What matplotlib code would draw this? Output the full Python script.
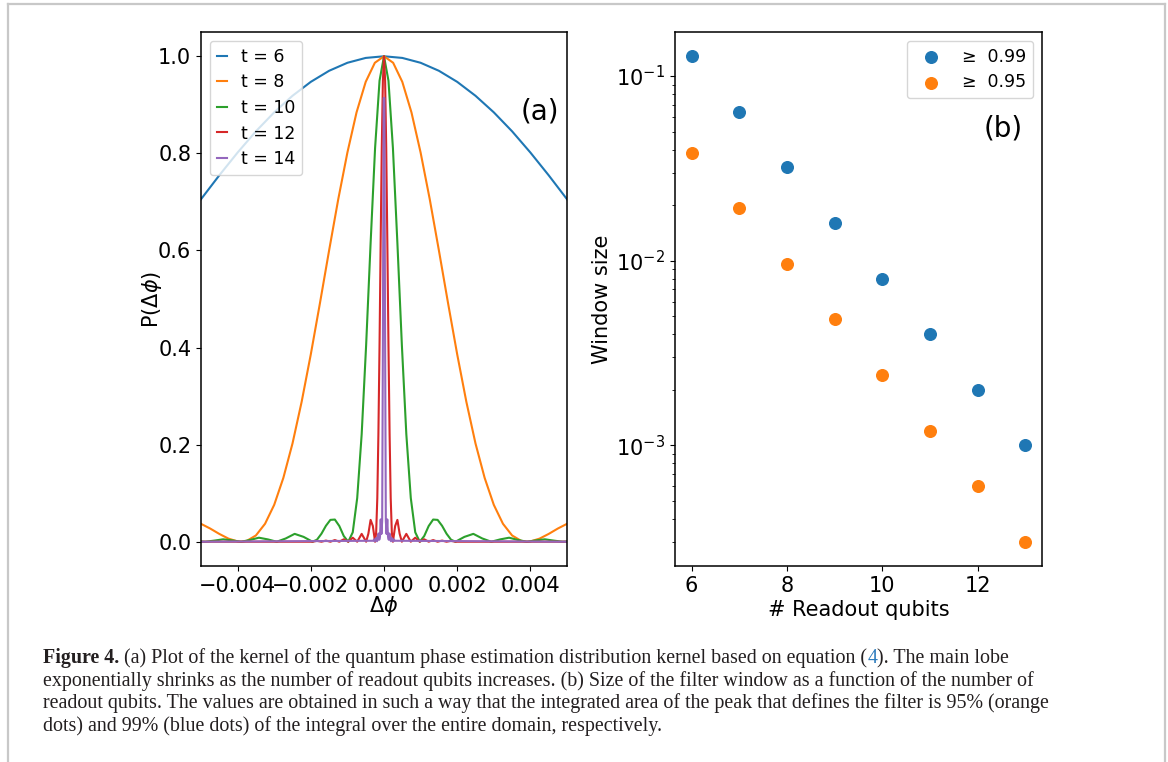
import matplotlib
matplotlib.use('Agg')
from matplotlib import pyplot as plt
from matplotlib.lines import Line2D

# (a) kernel curves, right half only (x >= 0); mirrored below
t_values = [6, 8, 10, 12, 14]

blue_x = [0, 0.0005, 0.001, 0.0015, 0.002, 0.0025, 0.003, 0.0035, 0.004, 0.0045, 0.005]
blue_y = [1.0, 0.9966, 0.9866, 0.9701, 0.9473, 0.9186, 0.8845, 0.8454, 0.8017, 0.7548, 0.7055]

orange_x = [0, 0.00025, 0.0005, 0.00075, 0.001, 0.00125, 0.0015, 0.00175, 0.002, 0.00225, 0.0025,
            0.00275, 0.003, 0.00325, 0.0035, 0.00375, 0.0039, 0.004, 0.00425, 0.0045, 0.00475, 0.005]
orange_y = [1.0, 0.9866, 0.9473, 0.8845, 0.8017, 0.7055, 0.6000, 0.4915, 0.3860, 0.2883, 0.2024,
            0.1315, 0.0760, 0.0370, 0.0129, 0.0017, 0.0, 0.0006, 0.0064, 0.0161, 0.0272, 0.0369]

green_x = [0, 0.000122, 0.000244, 0.000366, 0.000488, 0.00061, 0.000732, 0.000854, 0.000977,
           0.001099, 0.001221, 0.001343, 0.001465, 0.001587, 0.001709, 0.001831, 0.001953,
           0.002197, 0.002441, 0.002686, 0.00293, 0.003174, 0.003418, 0.003662, 0.003906,
           0.00415, 0.004395, 0.004639, 0.004883, 0.005]
green_y = [1.0, 0.9497, 0.8106, 0.6150, 0.4053, 0.2214, 0.0901, 0.0194, 0.0,
           0.0117, 0.0324, 0.0457, 0.0450, 0.0328, 0.0165, 0.0042, 0.0,
           0.0100, 0.0162, 0.0067, 0.0, 0.0048, 0.0083, 0.0036, 0.0,
           0.0028, 0.0050, 0.0023, 0.0, 0.0005]

red_x = [0, 0.0000305, 0.000061, 0.0000916, 0.000122, 0.000153, 0.000183, 0.000214, 0.000244,
         0.000305, 0.000366, 0.000427, 0.000488, 0.00061, 0.000732, 0.000854, 0.000977,
         0.001099, 0.001221, 0.001343, 0.001465, 0.001587, 0.001709, 0.001831, 0.001953, 0.005]
red_y = [1.0, 0.9497, 0.8106, 0.6150, 0.4053, 0.2214, 0.0901, 0.0194, 0.0,
         0.0324, 0.0450, 0.0165, 0.0, 0.0162, 0.0, 0.0083, 0.0,
         0.0050, 0.0, 0.0034, 0.0, 0.0024, 0.0, 0.0018, 0.0, 0.0]

purple_x = [0.00001, 0.00003, 0.00005, 0.00007, 0.00009, 0.00011, 0.00013, 0.00015,
            0.00017, 0.00019, 0.00021, 0.00023, 0.00025, 0.00027, 0.00029, 0.005]
purple_y = [0.914, 0.418, 0.043, 0.016, 0.046, 0.010, 0.004, 0.017,
            0.005, 0.001, 0.008, 0.003, 0.001, 0.005, 0.002, 0.0]

curves = [(blue_x, blue_y), (orange_x, orange_y), (green_x, green_y),
          (red_x, red_y), (purple_x, purple_y)]

# (b) window size vs readout qubits
readout = [6, 7, 8, 9, 10, 11, 12, 13]
win_99 = [0.128, 0.064, 0.032, 0.016, 0.008, 0.004, 0.002, 0.001]
win_95 = [0.0384, 0.0192, 0.0096, 0.0048, 0.0024, 0.0012, 0.0006, 0.0003]


def mirror(x, y):
    # curve is symmetric around 0
    if x[0] == 0:
        xl, yl = x[1:], y[1:]
    else:
        xl, yl = x, y
    xs = [-v for v in reversed(xl)] + list(x)
    ys = list(reversed(yl)) + list(y)
    return xs, ys


plt.rcParams['font.size'] = 15
plt.rcParams['lines.linewidth'] = 1.5
plt.rcParams['axes.linewidth'] = 1.1

fig = plt.figure(figsize=(11.68, 7.62), dpi=100)
W, H = 1168.0, 762.0
ax1 = fig.add_axes([201 / W, 1 - 566 / H, 366 / W, 534 / H])
ax2 = fig.add_axes([675 / W, 1 - 566 / H, 367 / W, 534 / H])

for t, (cx, cy) in zip(t_values, curves):
    xs, ys = mirror(cx, cy)
    ax1.plot(xs, ys, label='t = %d' % t)
ax1.set_xlim(-0.005, 0.005)
ax1.set_ylim(-0.05, 1.05)
ax1.set_xlabel(r'$\Delta\phi$')
ax1.set_ylabel(r'P($\Delta\phi$)')
ax1.yaxis.set_label_coords(-0.1, 0.5)
ax1.xaxis.set_label_coords(0.5, -0.053)
ax1.legend(loc='upper left', fontsize=12.5, handlelength=0.6, labelspacing=0.44)
ax1.text(0.925, 0.852, '(a)', transform=ax1.transAxes, fontsize=20, ha='center', va='center')

ax2.scatter(readout, win_99, s=70, label='≥  0.99')
ax2.scatter(readout, win_95, s=70, label='≥  0.95')
ax2.set_yscale('log')
ax2.set_xlabel('# Readout qubits')
ax2.set_ylabel('Window size')
ax2.yaxis.set_label_coords(-0.172, 0.5)
ax2.xaxis.set_label_coords(0.5, -0.064)
ax2.legend(loc='upper right', fontsize=12.5, labelspacing=0.44)
ax2.text(0.895, 0.82, '(b)', transform=ax2.transAxes, fontsize=20, ha='center', va='center')

# caption
cap = dict(family='Liberation Serif', fontsize=14.4, color='#231f20')
x0 = 43 / W
t1 = fig.text(x0, 1 - 663 / H, 'Figure 4.', weight='bold', va='baseline', **cap)
t2 = ax1.annotate(' (a) Plot of the kernel of the quantum phase estimation distribution kernel based on equation (',
                  xy=(1, 0), xycoords=t1, va='bottom', annotation_clip=False, **cap)
t3 = ax1.annotate('4', xy=(1, 0), xycoords=t2, va='bottom', annotation_clip=False,
                  family='Liberation Serif', fontsize=14.4, color='#2b7bbd')
ax1.annotate('). The main lobe', xy=(1, 0), xycoords=t3, va='bottom', annotation_clip=False, **cap)
fig.text(x0, 1 - 685.7 / H, 'exponentially shrinks as the number of readout qubits increases. (b) Size of the filter '
         'window as a function of the number of', va='baseline', **cap)
fig.text(x0, 1 - 708.3 / H, 'readout qubits. The values are obtained in such a way that the integrated area of the '
         'peak that defines the filter is 95% (orange', va='baseline', **cap)
fig.text(x0, 1 - 731 / H, 'dots) and 99% (blue dots) of the integral over the entire domain, respectively.',
         va='baseline', **cap)

# frame around the figure block
for xx, yy in [([8, 8], [762, 4]), ([8, 1165], [4, 4]), ([1165, 1165], [4, 762])]:
    fig.add_artist(Line2D([v / W for v in xx], [1 - v / H for v in yy], transform=fig.transFigure,
                          color='#c8c8c8', lw=1.6))

fig.savefig('out.png', dpi=100)
